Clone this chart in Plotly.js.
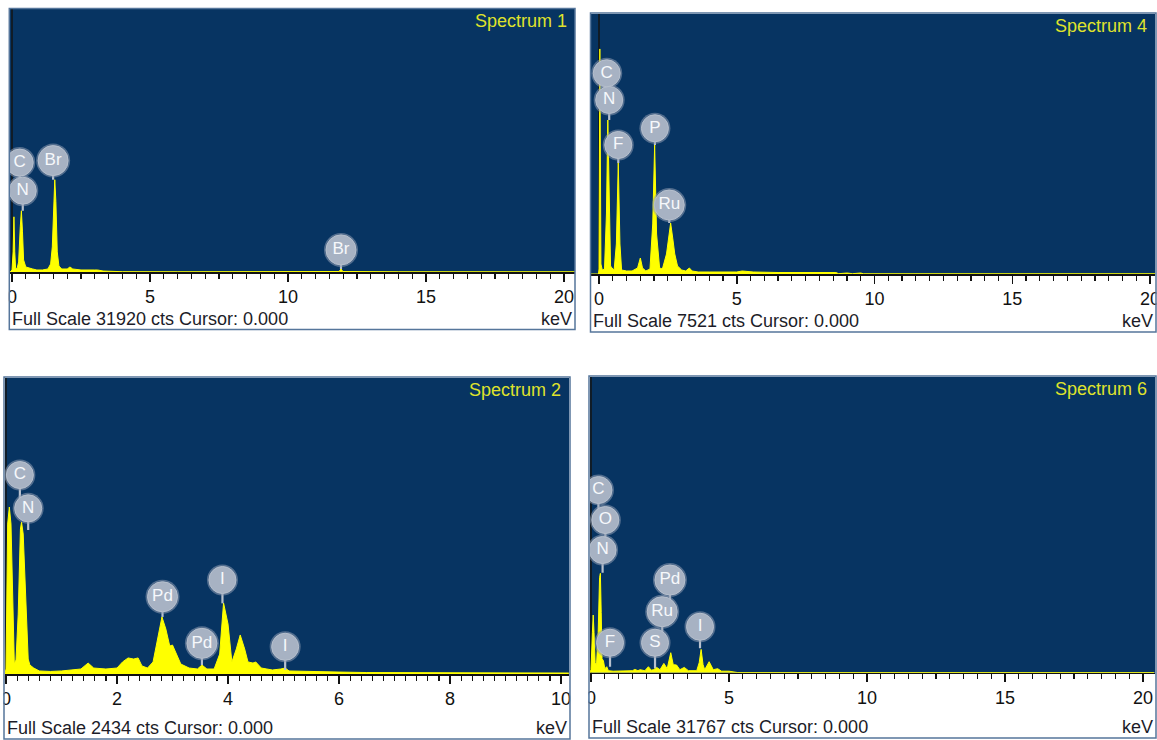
<!DOCTYPE html>
<html><head><meta charset="utf-8">
<script src="https://cdn.plot.ly/plotly-3.0.1.min.js"></script>
<style>html,body{margin:0;padding:0;background:#fff;} #chart{width:1157px;height:740px;}</style>
</head><body><div id="chart"></div>
<script>
// ---------- Spectrum 1 ----------
const s1Name = 'Spectrum 1';
const s1FullScale = 31920;
const s1Energy = [-0.07,0.0,0.04,0.07,0.10,0.13,0.18,0.24,0.30,0.34,0.38,0.42,0.50,0.60,0.75,0.90,1.10,1.30,1.40,1.46,1.51,1.55,1.59,1.64,1.70,1.80,2.00,2.10,2.20,2.50,3.00,3.10,3.30,3.44,3.55,4.00,6.00,10.0,11.85,11.92,11.99,14.0,20.4];
const s1Counts = [0,240,2440,6700,2440,490,365,1220,5480,7430,4870,1460,610,490,365,245,245,365,975,3045,8530,11200,8530,2440,730,365,365,610,365,245,245,245,120,120,60,35,25,25,60,365,60,25,25];
const s1Labels = ['C','N','Br','Br'];
const s1LabelEnergy = [0.28,0.39,1.49,11.92];
const s1LabelCounts = [13280,9870,13520,2680];
const s1StemCounts = [9870,7430,11200,365];

// ---------- Spectrum 4 ----------
const s4Name = 'Spectrum 4';
const s4FullScale = 7521;
const s4Energy = [-0.29,-0.02,0.0,0.03,0.07,0.12,0.20,0.27,0.32,0.37,0.42,0.47,0.55,0.63,0.70,0.76,0.82,1.00,1.20,1.40,1.50,1.58,1.70,1.85,1.95,2.02,2.09,2.20,2.30,2.45,2.55,2.60,2.68,2.75,2.85,3.00,3.15,3.28,3.38,3.60,4.00,5.00,5.20,5.60,6.50,7.50,8.60,8.70,9.00,9.20,9.50,9.60,20.2];
const s4Counts = [0,0,145,6510,289,116,145,1736,4455,1736,231,174,116,868,3211,868,116,87,87,174,463,174,87,145,1447,3732,1157,174,145,579,1302,1475,1013,579,231,116,87,174,87,58,58,58,87,58,43,43,43,9,29,9,29,6,6];
const s4Labels = ['C','N','F','P','Ru'];
const s4LabelEnergy = [0.28,0.37,0.70,2.03,2.55];
const s4LabelCounts = [5806,5034,3732,4215,1996];
const s4StemCounts = [5034,4455,3211,3732,1475];

// ---------- Spectrum 2 ----------
const s2Name = 'Spectrum 2';
const s2FullScale = 2434;
const s2Energy = [-0.02,0.0,0.03,0.06,0.09,0.12,0.15,0.18,0.22,0.26,0.28,0.31,0.36,0.40,0.43,0.50,0.60,0.80,1.00,1.20,1.35,1.48,1.58,1.80,2.00,2.10,2.20,2.30,2.38,2.45,2.55,2.65,2.75,2.81,2.88,2.95,3.00,3.07,3.15,3.30,3.45,3.53,3.62,3.75,3.85,3.92,4.00,4.07,4.15,4.22,4.30,4.36,4.45,4.50,4.60,4.70,4.80,4.95,5.03,5.10,5.40,5.60,6.00,6.50,7.00,8.00,9.00,10.14];
const s2Counts = [0,41,1233,1373,1233,493,82,115,493,1192,1249,1151,493,123,74,49,25,21,25,33,41,90,49,41,49,99,132,123,132,66,49,99,329,469,370,230,238,164,82,49,41,74,41,41,164,584,411,99,206,321,206,99,90,99,49,41,33,41,49,25,21,16,16,12,12,10,10,8];
const s2Labels = ['C','N','Pd','Pd','I','I'];
const s2LabelEnergy = [0.25,0.40,2.82,3.53,3.90,5.03];
const s2LabelCounts = [1636,1362,635,252,773,224];
const s2StemCounts = [1362,1184,469,74,581,33];

// ---------- Spectrum 6 ----------
const s6Name = 'Spectrum 6';
const s6FullScale = 31767;
const s6Energy = [-0.04,0.0,0.05,0.08,0.11,0.15,0.20,0.26,0.31,0.34,0.37,0.40,0.45,0.50,0.57,0.63,0.80,1.00,1.30,1.50,1.59,1.70,1.78,1.95,2.08,2.18,2.26,2.38,2.50,2.64,2.76,2.89,2.98,3.10,3.22,3.38,3.53,3.83,3.92,3.99,4.06,4.12,4.28,4.43,4.59,4.73,5.00,5.15,5.30,20.4];
const s6Counts = [0,322,4296,6197,4296,1074,859,4296,10203,10676,6444,1504,1289,430,644,215,161,161,161,215,354,215,322,215,644,269,322,569,322,999,430,2148,859,827,322,569,215,215,1074,2502,859,322,1181,322,430,161,161,107,21,21];
const s6Labels = ['C','O','N','F','S','Ru','Pd','I'];
const s6LabelEnergy = [0.27,0.52,0.42,0.69,2.32,2.58,2.86,3.95];
const s6LabelCounts = [19622,16400,13178,3222,3222,6551,9956,4940];
const s6StemCounts = [16400,13178,10740,644,473,3222,6551,2620];

// ---------- layout geometry (pixels) ----------
const W = 1157, H = 740;
const fx = p => p / W;
const fy = p => 1 - p / H;
const FONT = '"Liberation Sans", Arial, sans-serif';
const BG = '#073462';
const YELLOW = '#ffff00';

const panels = [
  {name:s1Name, fs:s1FullScale, e:s1Energy, c:s1Counts, lab:s1Labels, le:s1LabelEnergy, lc:s1LabelCounts, sc:s1StemCounts,
   plot:[10,575,9,272], zero:12, ppk:27.6, dtick:5, minor:0.5, box:[9.3,575,8.5,329.5]},
  {name:s4Name, fs:s4FullScale, e:s4Energy, c:s4Counts, lab:s4Labels, le:s4LabelEnergy, lc:s4LabelCounts, sc:s4StemCounts,
   plot:[591,1155,14,274], zero:599, ppk:27.55, dtick:5, minor:0.5, box:[590.5,1156,13,332]},
  {name:s2Name, fs:s2FullScale, e:s2Energy, c:s2Counts, lab:s2Labels, le:s2LabelEnergy, lc:s2LabelCounts, sc:s2StemCounts,
   plot:[5,569,378,674], zero:6, ppk:55.5, dtick:2, minor:0.2, box:[4,570,377,739]},
  {name:s6Name, fs:s6FullScale, e:s6Energy, c:s6Counts, lab:s6Labels, le:s6LabelEnergy, lc:s6LabelCounts, sc:s6StemCounts,
   plot:[590,1155,377,672.7], zero:591, ppk:27.6, dtick:5, minor:0.5, box:[589,1156,376,738]}
];

const traces = [];
const layout = {
  width: W, height: H, margin:{l:0,r:0,t:0,b:0}, paper_bgcolor:'#ffffff', plot_bgcolor:BG,
  showlegend:false, shapes:[], annotations:[], font:{family:FONT}
};

panels.forEach((p, i) => {
  const k = i === 0 ? '' : String(i+1);
  const xa = 'x'+k, ya = 'y'+k;
  const [l, r, t, b] = p.plot;
  const x0 = (l - p.zero)/p.ppk, x1 = (r - p.zero)/p.ppk;
  layout['xaxis'+k] = {
    domain:[fx(l), fx(r)], anchor:ya, range:[x0, x1], showgrid:false, zeroline:false,
    showline:true, linecolor:'#111', linewidth:1.5,
    ticks:'outside', ticklen:8, tickwidth:1.5, tickcolor:'#111', tick0:0, dtick:p.dtick,
    tickfont:{family:FONT, size:18, color:'#111'}, ticklabeloverflow:'allow',
    minor:{ticks:'outside', ticklen:5, tickwidth:1.2, tickcolor:'#111', dtick:p.minor, showgrid:false},
    fixedrange:true
  };
  layout['yaxis'+k] = {
    domain:[fy(b), fy(t)], anchor:xa, range:[0, p.fs], showgrid:false, zeroline:false,
    showline:false, showticklabels:false, ticks:'', fixedrange:true
  };
  // cursor line at 0
  layout.shapes.push({type:'line', xref:xa, yref:ya+' domain', x0:0, x1:0, y0:0, y1:1,
    line:{color:'#151515', width:1.5}, layer:'below'});
  // spectrum
  traces.push({type:'scatter', mode:'lines', x:p.e, y:p.c, xaxis:xa, yaxis:ya,
    line:{color:YELLOW, width:1}, fill:'tozeroy', fillcolor:YELLOW, hoverinfo:'skip'});
  // stems
  const sx = [], sy = [];
  p.le.forEach((e, j) => { sx.push(e, e, null); sy.push(p.lc[j], p.sc[j], null); });
  traces.push({type:'scatter', mode:'lines', x:sx, y:sy, xaxis:xa, yaxis:ya,
    line:{color:'#b8c1ce', width:2.2}, hoverinfo:'skip'});
  // badge halo + badges
  const sizes = p.lab.map(s => s.length > 1 ? 30 : 27);
  traces.push({type:'scatter', mode:'markers', x:p.le, y:p.lc, xaxis:xa, yaxis:ya,
    marker:{size:sizes.map(s=>s+4), color:'#8f9db3', opacity:0.55, line:{width:0}}, hoverinfo:'skip'});
  traces.push({type:'scatter', mode:'markers+text', x:p.le, y:p.lc, text:p.lab, xaxis:xa, yaxis:ya,
    textposition:'middle center', textfont:{family:FONT, size:17, color:'#f6f8fb'},
    marker:{size:sizes, color:'#a7b2c3', opacity:1, line:{width:1, color:'#b7c0cd'}}, hoverinfo:'skip'});

  // panel frame
  const [bl, br, bt, bb] = p.box;
  layout.shapes.push({type:'rect', xref:'paper', yref:'paper', x0:fx(bl-14), x1:fx(bl-0.5), y0:fy(bb), y1:fy(b+1),
    fillcolor:'#ffffff', line:{width:0}, layer:'above'});
  layout.shapes.push({type:'rect', xref:'paper', yref:'paper', x0:fx(br+0.5), x1:fx(br+12), y0:fy(bb), y1:fy(b+1),
    fillcolor:'#ffffff', line:{width:0}, layer:'above'});
  layout.shapes.push({type:'rect', xref:'paper', yref:'paper', x0:fx(bl), x1:fx(br), y0:fy(bb), y1:fy(bt),
    line:{color:'#56769b', width:1.5}, fillcolor:'rgba(0,0,0,0)', layer:'above'});

  // texts
  layout.annotations.push({xref:'paper', yref:'paper', x:fx(r-6), y:fy(t+12), xanchor:'right', yanchor:'middle',
    text:p.name, showarrow:false, font:{family:FONT, size:18, color:'#dfe22c'}});
  layout.annotations.push({xref:'paper', yref:'paper', x:fx(bl+0.5), y:fy(bb-11), xanchor:'left', yanchor:'middle',
    text:'Full Scale ' + p.fs + ' cts Cursor: 0.000', showarrow:false, font:{family:FONT, size:18, color:'#1c1c28'}});
  layout.annotations.push({xref:'paper', yref:'paper', x:fx(br-1), y:fy(bb-11), xanchor:'right', yanchor:'middle',
    text:'keV', showarrow:false, font:{family:FONT, size:18, color:'#1c1c28'}});
});

Plotly.newPlot('chart', traces, layout, {staticPlot:true, displayModeBar:false});
</script></body></html>
